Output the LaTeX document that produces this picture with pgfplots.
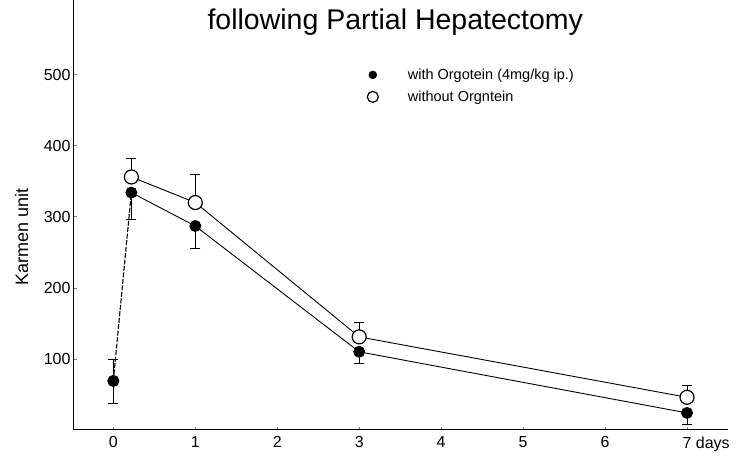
\documentclass[border=0pt]{standalone}
\usepackage{fontspec}
\setmainfont{Liberation Sans}
\usepackage{pgfplots}
\pgfplotsset{compat=1.18}
\begin{document}
\begin{tikzpicture}
\path[use as bounding box] (-74pt,-32pt) rectangle (668pt,430pt);
\begin{axis}[
  at={(0,0)}, anchor=south west,
  scale only axis, width=654pt, height=430pt,
  xmin=-0.48, xmax=7.5, ymin=0, ymax=605,
  axis x line=bottom, axis y line=left,
  axis line style={-, line width=1pt},
  xtick={0,1,2,3,4,5,6,7},
  xticklabels={0,1,2,3,4,5,6,{7\rlap{ days}}},
  ytick={100,200,300,400,500},
  tick align=inside, major tick length=3pt,
  tick style={line width=0.6pt},
  /pgf/number format/assume math mode=true,
  ticklabel style={font=\fontsize{16}{18}\selectfont},
  xticklabel style={yshift=-3pt},
  ylabel={Karmen unit},
  ylabel style={at={(axis description cs:-0.08,0.449)}, anchor=center, font=\fontsize{18}{20}\selectfont},
  clip=false,
  legend style={at={(axis cs:3.06,514)}, anchor=north west, draw=none, fill=none,
    font=\fontsize{14.5}{16}\selectfont, row sep=6pt,
    legend cell align=left},
  legend image code/.code={\path[draw=none, fill=none] (-5pt,0pt) -- (33pt,0pt); \draw[#1] plot coordinates {(0pt,0pt)};},
  error bars/error mark options={rotate=90, mark size=5pt, line width=0.8pt},
]
\addlegendimage{only marks, mark=*, mark size=4pt, black}
\addlegendentry{with Orgotein (4mg/kg ip.)}
\addlegendimage{only marks, mark=o, mark size=5.5pt, black, line width=1.2pt}
\addlegendentry{without Orgntein}

% day-0 point of the treated group
\addplot[black, line width=1.1pt, forget plot,
  mark=*, mark size=5.5pt,
  error bars/.cd, y dir=both, y explicit]
  coordinates {(0,69) += (0,31) -= (0,31)};
\addplot[black, line width=1.1pt, dash pattern=on 5pt off 1.5pt, forget plot]
  coordinates {(0,69) (0.22,334)};

% with Orgotein (filled)
\addplot[black, line width=0.9pt, mark=*, mark size=5.5pt, forget plot,
  error bars/.cd, y dir=minus, y explicit]
  coordinates {
    (0.22,334) +- (0,38)
    (1,287) +- (0,31)
    (3,110) +- (0,17)
    (7,24) +- (0,16)
  };

% without Orgotein (open)
\addplot[black, line width=0.9pt, mark=*, mark size=7pt,
  mark options={fill=white, line width=1.2pt}, forget plot,
  error bars/.cd, y dir=plus, y explicit]
  coordinates {
    (0.22,356) +- (0,26)
    (1,320) +- (0,39)
    (3,131) +- (0,20)
    (7,46) +- (0,17)
  };

\node[font=\fontsize{28.5}{31}\selectfont] at (axis cs:3.44,574) {following Partial Hepatectomy};
\end{axis}
\end{tikzpicture}
\end{document}
